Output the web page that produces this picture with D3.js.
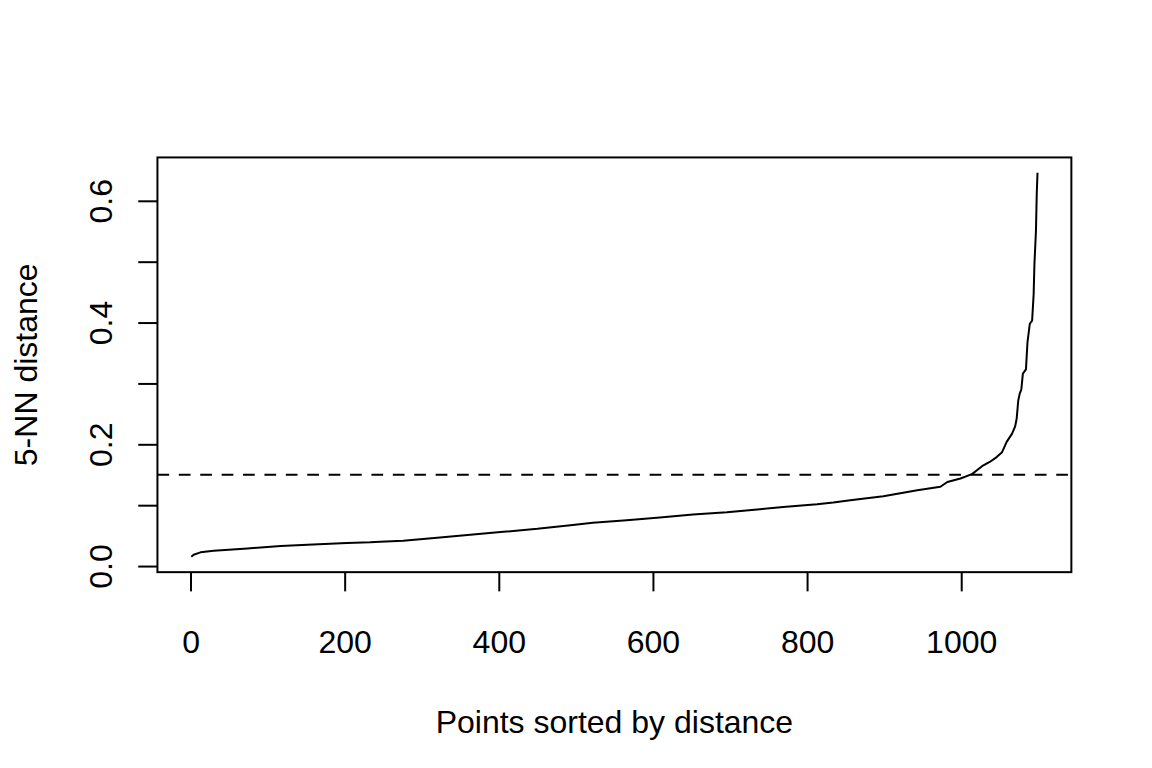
<!DOCTYPE html>
<html>
<head>
<meta charset="utf-8">
<script src="https://cdn.jsdelivr.net/npm/d3@7.9.0/dist/d3.min.js"></script>
<style>
  body { margin: 0; background: #fff; }
  svg { display: block; font-family: "Liberation Sans", Arial, sans-serif; }
</style>
</head>
<body>
<svg id="chart" width="1152" height="768"></svg>
<script>
// sorted 5-NN distances (rank, distance)
const ranks = [1, 4, 13, 30, 74, 117, 159, 203, 233, 246, 276, 320, 363, 406, 450, 493, 522, 566, 609, 652,
  696, 739, 769, 813, 834, 856, 899, 943, 973, 982, 999, 1014, 1020, 1027, 1037, 1046, 1053, 1059,
  1066, 1070, 1072, 1074, 1076, 1078, 1080, 1084, 1086, 1089, 1092, 1094, 1095, 1097, 1098, 1099];
const dists = [0.0152, 0.0185, 0.0225, 0.0251, 0.029, 0.0328, 0.0356, 0.0377, 0.0389, 0.0398, 0.0415, 0.0464, 0.0513, 0.0562, 0.0611, 0.0672, 0.071, 0.0754, 0.0798, 0.0848,
  0.0885, 0.0934, 0.0972, 0.1016, 0.1044, 0.1082, 0.1148, 0.1246, 0.1303, 0.138, 0.1438, 0.151, 0.157, 0.164, 0.171, 0.179, 0.187, 0.204,
  0.2175, 0.2295, 0.2426, 0.272, 0.2836, 0.29, 0.316, 0.323, 0.368, 0.398, 0.403, 0.447, 0.496, 0.551, 0.611, 0.646];

const xTicks = [0, 200, 400, 600, 800, 1000];
const yTicks = [0, 0.1, 0.2, 0.3, 0.4, 0.5, 0.6];
const yLabelled = [0, 0.2, 0.4, 0.6];
const cutoff = 0.15;

const W = 1152, H = 768;
const lh = 38.4; // one margin line
const margin = { top: 4.1 * lh, right: 2.1 * lh, bottom: 5.1 * lh, left: 4.1 * lh };
const fontSize = 32;

// R-style 4% padding on the data range
const pad = ([lo, hi]) => [lo - 0.04 * (hi - lo), hi + 0.04 * (hi - lo)];

const x = d3.scaleLinear()
  .domain(pad(d3.extent(ranks)))
  .range([margin.left, W - margin.right]);

const y = d3.scaleLinear()
  .domain(pad(d3.extent(dists)))
  .range([H - margin.bottom, margin.top]);

const svg = d3.select('#chart');

// x axis
const xAxis = svg.append('g')
  .attr('transform', `translate(0,${H - margin.bottom})`)
  .call(d3.axisBottom(x).tickValues(xTicks).tickSize(19.2).tickSizeOuter(0).tickFormat(d3.format('d')));
xAxis.select('.domain').remove();
xAxis.selectAll('line').attr('stroke', '#000').attr('stroke-width', 2);
xAxis.selectAll('text')
  .attr('y', 81).attr('dy', 0)
  .attr('font-size', fontSize).attr('font-family', null).attr('fill', '#000');

// y axis
const yAxis = svg.append('g')
  .attr('transform', `translate(${margin.left},0)`)
  .call(d3.axisLeft(y).tickValues(yTicks).tickSize(19.2).tickSizeOuter(0)
    .tickFormat(d => yLabelled.some(v => Math.abs(v - d) < 1e-9) ? d3.format('.1f')(d) : ''));
yAxis.select('.domain').remove();
yAxis.selectAll('line').attr('stroke', '#000').attr('stroke-width', 2);
yAxis.selectAll('text')
  .attr('x', 0).attr('dy', 0)
  .attr('transform', 'translate(-45,0) rotate(-90)')
  .attr('text-anchor', 'middle')
  .attr('font-size', fontSize).attr('font-family', null).attr('fill', '#000');

// box
svg.append('rect')
  .attr('x', margin.left).attr('y', margin.top)
  .attr('width', W - margin.left - margin.right)
  .attr('height', H - margin.top - margin.bottom)
  .attr('fill', 'none').attr('stroke', '#000').attr('stroke-width', 2);

// cutoff line
svg.append('line')
  .attr('x1', margin.left).attr('x2', W - margin.right)
  .attr('y1', y(cutoff)).attr('y2', y(cutoff))
  .attr('stroke', '#000').attr('stroke-width', 2)
  .attr('stroke-dasharray', '11.7 9.7');

// k-NN distance curve
const curve = d3.line().x(d => x(d[0])).y(d => y(d[1]));
svg.append('path')
  .datum(d3.zip(ranks, dists))
  .attr('d', curve)
  .attr('fill', 'none').attr('stroke', '#000').attr('stroke-width', 2)
  .attr('stroke-linejoin', 'round');

// axis titles
svg.append('text')
  .attr('x', (margin.left + W - margin.right) / 2)
  .attr('y', 733)
  .attr('text-anchor', 'middle')
  .attr('font-size', fontSize)
  .text('Points sorted by distance');

svg.append('text')
  .attr('transform', `translate(37,${(margin.top + H - margin.bottom) / 2}) rotate(-90)`)
  .attr('text-anchor', 'middle')
  .attr('font-size', fontSize)
  .text('5-NN distance');
</script>
</body>
</html>
